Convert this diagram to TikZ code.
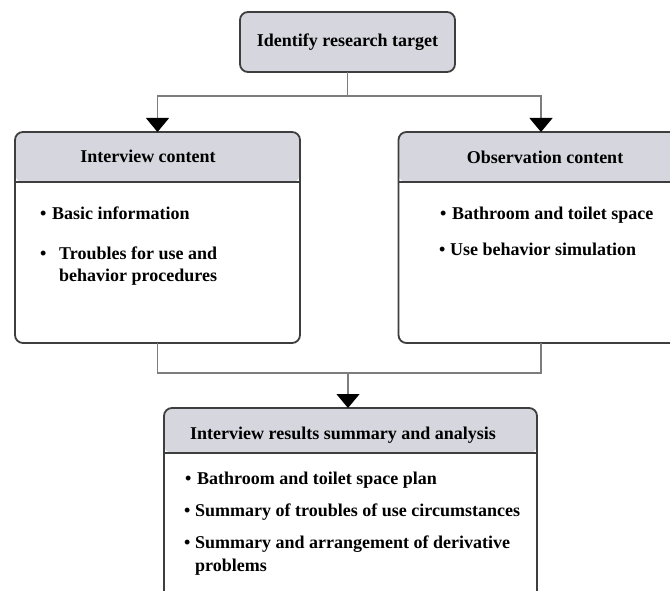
\documentclass[tikz,border=0pt]{standalone}
\usepackage{fontspec}
\setmainfont{Liberation Serif}
\usepackage{tikz}
\usetikzlibrary{math}
\usetikzlibrary{arrows.meta}
\usetikzlibrary{positioning}
\definecolor{headgray}{RGB}{214,214,222}
\definecolor{framegray}{RGB}{62,62,62}
\definecolor{linkgray}{RGB}{125,125,125}
\def\bul{\makebox[12pt][l]{\textbullet}}

\begin{document}
\begin{tikzpicture}[x=1pt, y=-1pt, font=\fontsize{18}{22}\selectfont\bfseries,
    box/.style={draw=framegray, line width=1.8pt, rounded corners=8pt, inner sep=0pt, outer sep=0pt},
    panel/.style={box, fill=white, path picture={
      \fill[headgray] (path picture bounding box.north west) rectangle ([yshift=-#1pt]path picture bounding box.north east);
      \draw[framegray, line width=1.8pt] ([yshift=-#1pt]path picture bounding box.north west) -- ([yshift=-#1pt]path picture bounding box.north east);}},
    item/.style={anchor=base west, inner sep=0pt},
    link/.style={draw=linkgray, line width=1.1pt},
    tip/.style={-{Triangle[width=23pt, length=14pt, color=black]}}]
  \tikzmath{
    \hw = 285;
    \hh = 211;
  }
  \useasboundingbox (0,0) rectangle (670,591);
  \clip (0,0) rectangle (670,591);

  % boxes
  \node[box, fill=headgray, minimum width=215pt, minimum height=60pt] (target) at (347.5,42) {Identify research target};
  \node[panel=50, minimum width=\hw pt, minimum height=\hh pt] (interview) at (157.5,237.5) {};
  \node[panel=50, minimum width=\hw pt, minimum height=\hh pt] (observe) at (541,237.5) {};
  \node[panel=45, minimum width=373pt, minimum height=200pt] (summary) at (350.5,508) {};

  % titles
  \node (interviewhead) at (148,156) {Interview content};
  \node (observehead) at (545,157) {Observation content};
  \node (summaryhead) at (343,435) {Interview results summary and analysis};

  % items
  \node[item] (basic) at (40,219) {\bul Basic information};
  \node[item] (trouble) at (40,259) {\makebox[19pt][l]{\textbullet}Troubles for use and};
  \node[item] (procedure) at (59,281) {behavior procedures};
  \node[item] (space) at (440,220) {\bul Bathroom and toilet space};
  \node[item] (simulate) at (439,255) {\makebox[11pt][l]{\textbullet}Use behavior simulation};
  \node[item] (plan) at (185,484) {\bul Bathroom and toilet space plan};
  \node[item] (circum) at (184,516) {\makebox[11pt][l]{\textbullet}Summary of troubles of use circumstances};
  \node[item] (arrange) at (184,548) {\makebox[11pt][l]{\textbullet}Summary and arrangement of derivative};
  \node[item] (problem) at (195,571) {problems};

  % connectors
  \coordinate (split) at (347.5,96);
  \coordinate (merge) at (348,373);
  \draw[link] (target.south) -- (split);
  \draw[link, tip] (split) -| (interview.north);
  \draw[link, tip] (split) -| (observe.north);
  \draw[link] (interview.south) |- (merge);
  \draw[link] (observe.south) |- (merge);
  \draw[link, tip] (merge) -- (merge |- summary.north);
\end{tikzpicture}
\end{document}
